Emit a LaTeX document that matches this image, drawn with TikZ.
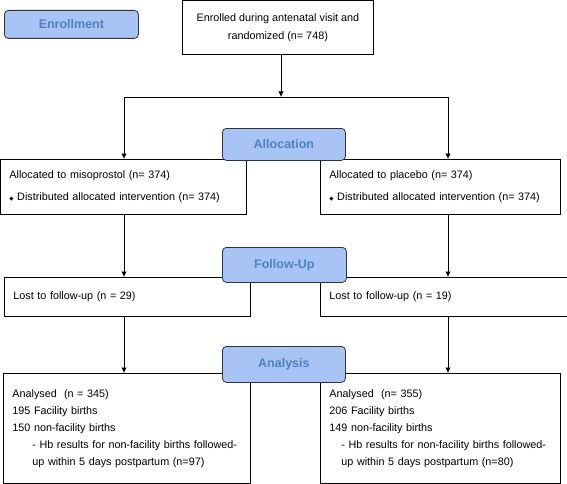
\documentclass[tikz,border=0pt]{standalone}
\usepackage{fontspec}
\setmainfont{Liberation Sans}
\newfontfamily\symfont{DejaVu Sans}
\usetikzlibrary{arrows.meta}
\definecolor{phasefill}{RGB}{168,196,245}
\definecolor{phasetext}{RGB}{79,129,189}
\tikzset{
    databox/.style={draw, line width=0.8pt, anchor=north west, align=left, inner xsep=9pt, inner ysep=0pt,
        font=\fontsize{10.8}{17}\selectfont},
    phasebox/.style={draw=black!80, line width=0.8pt, fill=phasefill, rounded corners=4pt, anchor=north west,
        font=\fontsize{12.5}{14}\selectfont\bfseries, text=phasetext},
    flow/.style={line width=0.8pt, -{Latex[length=5.5pt,width=5.5pt]}}
}
\begin{document}
\begin{tikzpicture}[x=1pt,y=-1pt]
    \useasboundingbox (0,0) rectangle (567,484);
    \coordinate (lcol) at (124,0);
    \coordinate (mcol) at (281,0);
    \coordinate (rcol) at (448,0);
    \coordinate (split) at (0,97);
    \node[databox, align=center, minimum width=191pt, minimum height=54pt, font=\fontsize{10.8}{18}\selectfont] (enrol) at (182,0) {Enrolled during antenatal visit and\\randomized (n= 748)};
    \node[databox, text width=228pt, minimum height=55pt] (lalloc) at (0,159) {Allocated to misoprostol (n= 374)\\[5pt]{\symfont\fontsize{5.5}{5}\selectfont ◆} Distributed allocated intervention (n= 374)};
    \node[databox, text width=222pt, minimum height=55pt] (ralloc) at (320,159) {Allocated to placebo (n= 374)\\[5pt]{\symfont\fontsize{5.5}{5}\selectfont ◆} Distributed allocated intervention (n= 374)};
    \node[databox, text width=228pt, minimum height=39pt] (lfollow) at (4,277) {\raisebox{3pt}{Lost to follow-up (n = 29)}};
    \node[databox, text width=229pt, minimum height=39pt] (rfollow) at (320,277) {\raisebox{3pt}{Lost to follow-up (n = 19)}};
    \node[databox, text width=229pt, minimum height=110pt] (lanal) at (3,373) {Analysed\ \ (n = 345)\\195 Facility births\\150 non-facility births\\\hspace*{20pt}- Hb results for non-facility births followed-\\\hspace*{20pt}up within 5 days postpartum (n=97)};
    \node[databox, text width=222pt, minimum height=110pt] (ranal) at (320,373) {Analysed\ \ (n= 355)\\206 Facility births\\149 non-facility births\\\hspace*{12pt}- Hb results for non-facility births followed-\\\hspace*{12pt}up within 5 days postpartum (n=80)};
    \draw[flow] (enrol.south -| mcol) -- (split -| mcol);
    \draw[line width=0.8pt] (split -| lcol) -- (split -| rcol);
    \draw[flow] (split -| lcol) -- (lalloc.north -| lcol);
    \draw[flow] (split -| rcol) -- (ralloc.north -| rcol);
    \draw[flow] (lalloc.south -| lcol) -- (lfollow.north -| lcol);
    \draw[flow] (ralloc.south -| rcol) -- (rfollow.north -| rcol);
    \draw[flow] (lfollow.south -| lcol) -- (lanal.north -| lcol);
    \draw[flow] (rfollow.south -| rcol) -- (ranal.north -| rcol);
    \node[phasebox, minimum width=134pt, minimum height=28pt] (enrollment) at (4,10) {Enrollment};
    \node[phasebox, minimum width=123pt, minimum height=32pt] (allocation) at (222,128) {Allocation};
    \node[phasebox, minimum width=124pt, minimum height=35pt] (followup) at (222,247) {Follow-Up};
    \node[phasebox, minimum width=123pt, minimum height=36pt] (analysis) at (222,346) {Analysis};
\end{tikzpicture}
\end{document}
